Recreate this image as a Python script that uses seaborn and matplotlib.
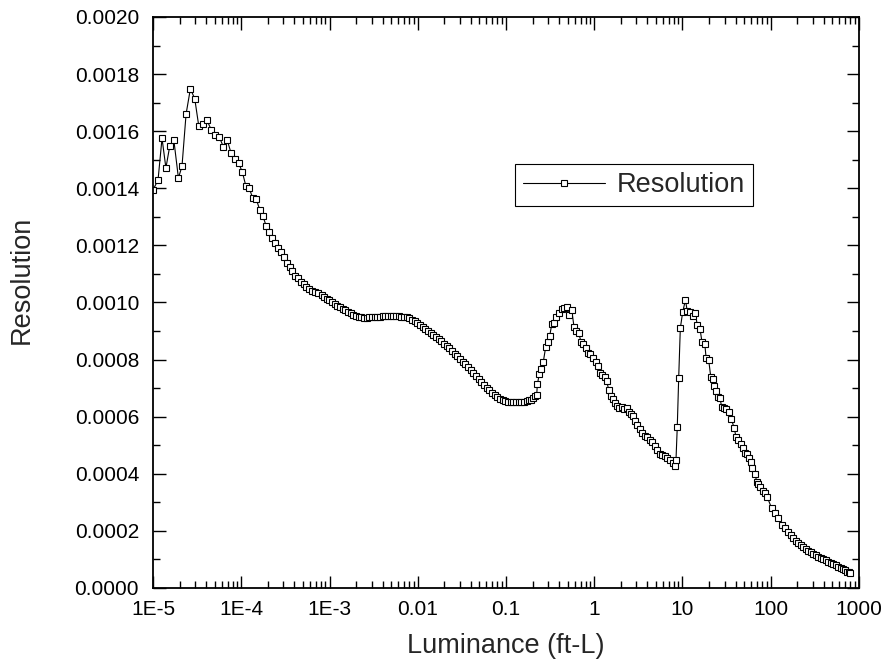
import matplotlib
matplotlib.use('Agg')
import pandas as pd
import seaborn as sns
import matplotlib.pyplot as plt
from matplotlib.ticker import LogLocator, MultipleLocator, NullFormatter

# luminance (ft-L) and resolution
luminance = [
    1.00e-5, 1.14e-5, 1.265e-5, 1.40e-5, 1.55e-5, 1.72e-5, 1.94e-5, 2.13e-5, 2.37e-5, 2.65e-5,
    2.97e-5, 3.30e-5, 3.69e-5, 4.09e-5, 4.58e-5, 5.08e-5, 5.64e-5, 6.26e-5, 6.95e-5, 7.65e-5,
    8.50e-5, 9.35e-5, 1.03e-4, 1.13e-4, 1.23e-4, 1.35e-4, 1.48e-4, 1.62e-4, 1.76e-4, 1.91e-4,
    2.06e-4, 2.25e-4, 2.43e-4, 2.63e-4, 2.82e-4, 3.05e-4, 3.30e-4, 3.54e-4, 3.79e-4, 4.09e-4,
    4.39e-4, 4.75e-4, 5.10e-4, 5.46e-4, 5.90e-4, 6.33e-4, 6.85e-4, 7.41e-4,
    8.16e-4, 8.73e-4, 9.29e-4, 9.95e-4, 1.07e-3, 1.15e-3, 1.23e-3, 1.31e-3, 1.41e-3, 1.51e-3,
    1.62e-3, 1.74e-3, 1.86e-3, 2.00e-3, 2.14e-3, 2.29e-3, 2.46e-3, 2.64e-3, 2.83e-3, 3.03e-3,
    3.25e-3, 3.48e-3, 3.74e-3, 4.01e-3, 4.29e-3, 4.60e-3, 4.93e-3, 5.28e-3, 5.67e-3, 6.08e-3,
    6.51e-3, 6.99e-3,
    7.49e-3, 8.03e-3, 8.61e-3, 9.23e-3, 9.89e-3, 1.06e-2, 1.14e-2, 1.22e-2, 1.31e-2, 1.40e-2,
    1.50e-2, 1.61e-2, 1.73e-2, 1.85e-2, 1.98e-2, 2.13e-2, 2.28e-2, 2.44e-2, 2.62e-2, 2.81e-2,
    3.01e-2, 3.23e-2, 3.46e-2, 3.71e-2, 3.98e-2, 4.26e-2, 4.57e-2, 4.91e-2,
    5.25e-2, 5.63e-2, 6.04e-2, 6.47e-2, 6.94e-2, 7.44e-2, 7.97e-2, 8.55e-2, 9.17e-2, 9.83e-2,
    0.105, 0.113, 0.121, 0.130, 0.139, 0.149, 0.160, 0.172, 0.182, 0.192, 0.202, 0.213, 0.223,
    0.2265, 0.239, 0.250, 0.265, 0.282, 0.297, 0.313, 0.330, 0.350, 0.372,
    0.399, 0.428, 0.458, 0.488, 0.522, 0.555, 0.590, 0.627, 0.667, 0.708,
    0.752, 0.801, 0.850, 0.902, 0.968, 1.04, 1.09, 1.16, 1.23, 1.31,
    1.38, 1.46, 1.55, 1.64, 1.73, 1.83, 1.92, 2.05, 2.17, 2.33,
    2.46, 2.59, 2.73,
    2.90, 3.09, 3.30, 3.52, 3.76, 4.01, 4.28, 4.57, 4.88, 5.21, 5.56, 5.93, 6.33, 6.76,
    7.21, 7.74, 8.16, 8.44, 8.73, 9.06, 9.45, 10.05, 10.8, 11.3,
    12.2, 13.1, 14.0, 14.7, 15.8, 16.6, 17.9, 18.5, 19.8, 20.9,
    22.0, 22.9, 24.2, 25.5, 26.6, 27.8, 29.3, 31.4, 33.6, 35.7,
    38.6, 40.4, 42.9, 45.7, 48.1, 50.7, 53.4, 56.3, 59.7, 61.8,
    66.4, 69.4, 72.3, 75.6, 81.1, 86.1, 91.4,
    102.5, 111.7, 121.8, 133.2, 145.1, 158.2, 169, 180.3, 192, 205.3,
    219, 233.9, 250, 266.5, 285, 303.6, 325, 345.8, 370, 394.0,
    420, 448.8, 480, 511.3, 545, 582.4, 620, 663.5, 700, 736.2,
    765, 790.7,
]

resolution = [
    0.001394, 0.001429, 0.001575, 0.001471, 0.001549, 0.001570, 0.001436, 0.001477, 0.001660, 0.001748,
    0.001714, 0.001618, 0.001626, 0.001638, 0.001604, 0.001587, 0.001579, 0.001546, 0.001568, 0.001524,
    0.001502, 0.001488, 0.001456, 0.001407, 0.001401, 0.001365, 0.001361, 0.001325, 0.001303, 0.001269,
    0.001247, 0.001225, 0.001207, 0.001191, 0.001176, 0.001158, 0.001139, 0.001125, 0.001110, 0.001094,
    0.001086, 0.001073, 0.001065, 0.001053, 0.001046, 0.001041, 0.001037, 0.001032,
    0.001026, 0.001020, 0.001013, 0.001008, 0.001002, 0.000995, 0.000989, 0.000983, 0.000977, 0.000973,
    0.000968, 0.000963, 0.000957, 0.000954, 0.000950, 0.000948, 0.000947, 0.000947, 0.000948, 0.000948,
    0.000949, 0.000950, 0.000950, 0.000952, 0.000952, 0.000952, 0.000952, 0.000952, 0.000952, 0.000952,
    0.000950, 0.000949,
    0.000948, 0.000945, 0.000940, 0.000934, 0.000928, 0.000921, 0.000914, 0.000907, 0.000900, 0.000893,
    0.000886, 0.000879, 0.000871, 0.000864, 0.000856, 0.000848, 0.000840, 0.000830, 0.000821, 0.000812,
    0.000802, 0.000793, 0.000784, 0.000774, 0.000764, 0.000754, 0.000744, 0.000733,
    0.000723, 0.000712, 0.000702, 0.000693, 0.000684, 0.000676, 0.000669, 0.000663, 0.000658, 0.000655,
    0.000653, 0.000653, 0.000653, 0.000653, 0.000653, 0.000653, 0.000653, 0.000654, 0.000657, 0.000660,
    0.000665, 0.000671, 0.000677,
    0.000713, 0.000750, 0.000766, 0.000793, 0.000845, 0.000863, 0.000883, 0.000924, 0.000927, 0.000948,
    0.000963, 0.000976, 0.000980, 0.000985, 0.000956, 0.000974, 0.000915, 0.000901, 0.000892, 0.000863,
    0.000855, 0.000840, 0.000822, 0.000820, 0.000805, 0.000793, 0.000778, 0.000754, 0.000746, 0.000738,
    0.000726, 0.000694, 0.000672, 0.000661, 0.000647, 0.000637, 0.000630, 0.000635, 0.000626, 0.000629,
    0.000618, 0.000609, 0.000602,
    0.000585, 0.000571, 0.000557, 0.000543, 0.000532, 0.000529, 0.000518, 0.000511, 0.000497, 0.000483,
    0.000469, 0.000466, 0.000462, 0.000455,
    0.000448, 0.000439, 0.000428, 0.000448, 0.000565, 0.000737, 0.000910, 0.000966, 0.001009, 0.000971,
    0.000968, 0.000953, 0.000962, 0.000921, 0.000908, 0.000863, 0.000855, 0.000807, 0.000799, 0.000740,
    0.000733, 0.000708, 0.000690, 0.000670, 0.000664, 0.000635, 0.000632, 0.000627, 0.000618, 0.000593,
    0.000559, 0.000530, 0.000518, 0.000503, 0.000489, 0.000474, 0.000468, 0.000456, 0.000442, 0.000419,
    0.000399, 0.000372, 0.000364, 0.000353, 0.000341, 0.000332, 0.000318,
    0.000279, 0.000262, 0.000244, 0.000221, 0.000209, 0.000197, 0.000186, 0.000174, 0.000165, 0.000157,
    0.000150, 0.000143, 0.000137, 0.000131, 0.000125, 0.000119, 0.000114, 0.000110, 0.000106, 0.000102,
    0.0000970, 0.0000921, 0.0000875, 0.0000830, 0.0000788, 0.0000746, 0.0000700, 0.0000655, 0.0000613, 0.0000571,
    0.0000555, 0.0000536,
]

x_ticks = [1e-5, 1e-4, 1e-3, 1e-2, 1e-1, 1, 10, 100, 1000]
x_tick_labels = ['1E-5', '1E-4', '1E-3', '0.01', '0.1', '1', '10', '100', '1000']
y_ticks = [0.0000, 0.0002, 0.0004, 0.0006, 0.0008, 0.0010, 0.0012, 0.0014, 0.0016, 0.0018, 0.0020]
y_tick_labels = ['0.0000', '0.0002', '0.0004', '0.0006', '0.0008', '0.0010',
                 '0.0012', '0.0014', '0.0016', '0.0018', '0.0020']

df = pd.DataFrame({'Luminance (ft-L)': luminance, 'Resolution': resolution})

sns.set_style('ticks')
plt.rcParams['font.family'] = ['Liberation Sans', 'DejaVu Sans']

fig = plt.figure(figsize=(8.86, 6.68), dpi=100)
ax = fig.add_axes([0.1727, 0.1198, 0.7968, 0.8548])

sns.lineplot(data=df, x='Luminance (ft-L)', y='Resolution', ax=ax, sort=False,
             estimator=None, color='black', linewidth=0.8, marker='s',
             markersize=4, markerfacecolor='white', markeredgecolor='black',
             markeredgewidth=0.8, label='Resolution', legend=False)

ax.set_xscale('log')
ax.set_xlim(1e-5, 1000)
ax.set_ylim(0, 0.002)

ax.set_xticks(x_ticks)
ax.set_xticklabels(x_tick_labels)
ax.xaxis.set_minor_locator(LogLocator(base=10, subs=range(2, 10), numticks=20))
ax.xaxis.set_minor_formatter(NullFormatter())
ax.set_yticks(y_ticks)
ax.set_yticklabels(y_tick_labels)
ax.yaxis.set_minor_locator(MultipleLocator(0.0001))

ax.tick_params(which='both', direction='in', top=True, right=True, width=1, colors='black')
ax.tick_params(which='major', length=9, labelsize=15)
ax.tick_params(axis='x', which='major', pad=9)
ax.tick_params(axis='y', which='major', pad=10)
ax.tick_params(which='minor', length=5)

for sp in ax.spines.values():
    sp.set_linewidth(1.3)
    sp.set_color('black')

ax.set_xlabel('Luminance (ft-L)', fontsize=19.5, labelpad=10)
ax.set_ylabel('Resolution', fontsize=19.5)
ax.yaxis.set_label_coords(-0.167, 0.539)

leg = ax.legend(loc='upper left', bbox_to_anchor=(0.513, 0.7426), frameon=True,
                fancybox=False, edgecolor='black', framealpha=1, fontsize=19.5,
                handlelength=3.0, handletextpad=0.45, borderpad=0.3, borderaxespad=0)
leg.get_frame().set_linewidth(0.8)

fig.savefig('out.png', dpi=100)
